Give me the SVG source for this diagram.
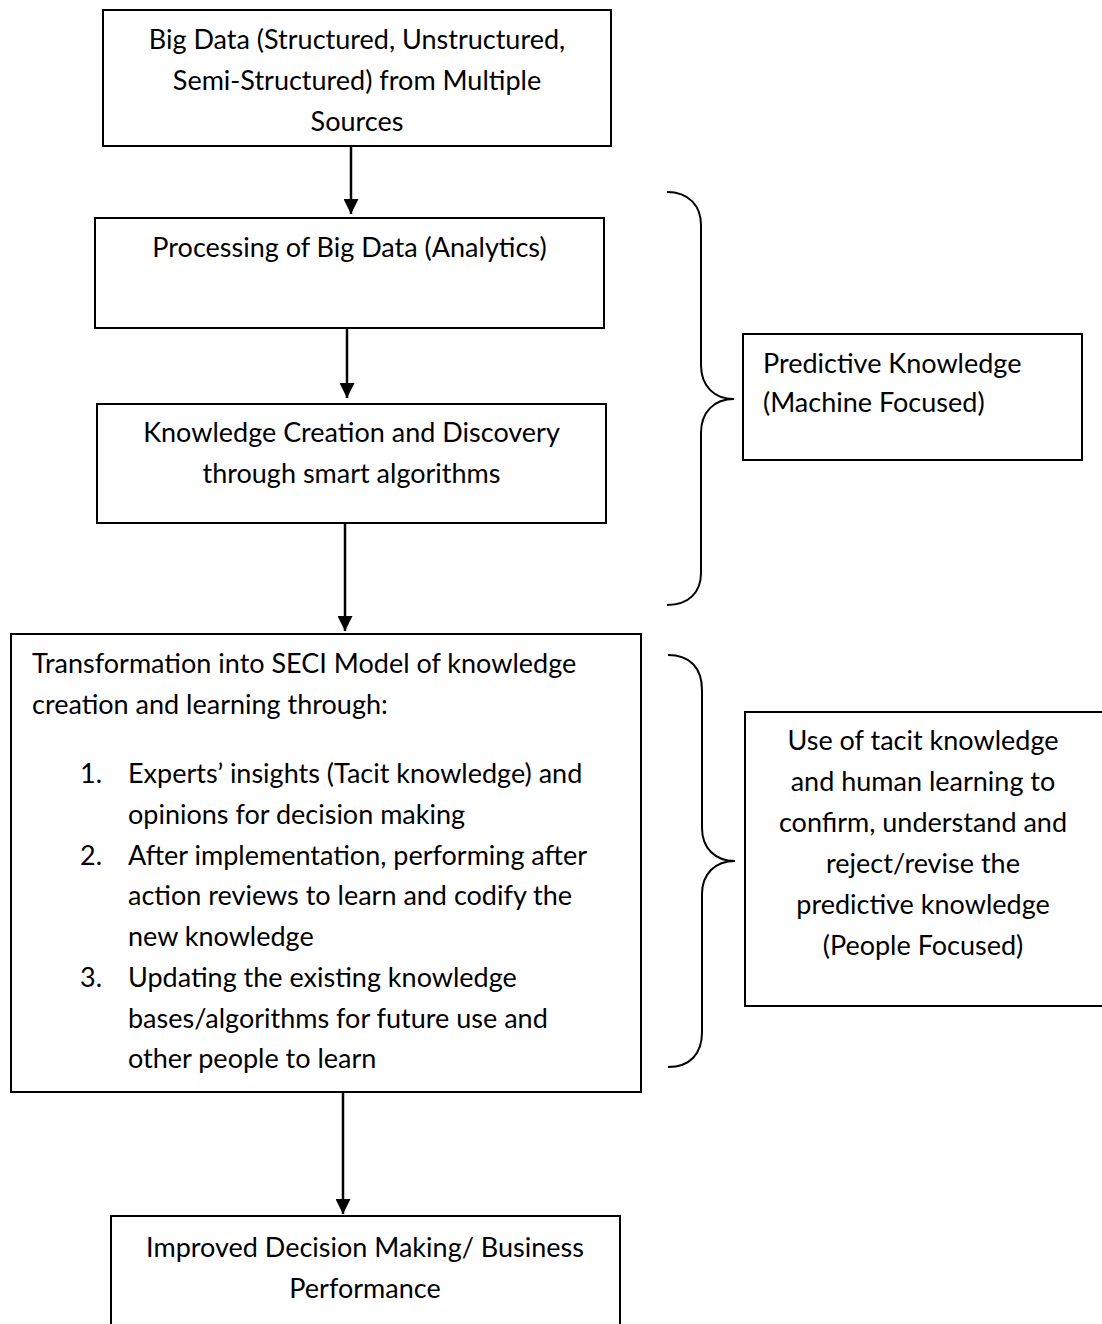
<svg xmlns="http://www.w3.org/2000/svg" width="1102" height="1324" viewBox="0 0 1102 1324">
<style>
.box{fill:#fff;stroke:#000;stroke-width:2}
.brace{fill:none;stroke:#000;stroke-width:2}
.conn{stroke:#000;stroke-width:2.5;fill:none}
text{font-family:Lato,"Open Sans","Liberation Sans",sans-serif;font-size:27px;fill:#000}
.c{text-anchor:middle}
</style>
<defs>
<marker id="ah" markerUnits="userSpaceOnUse" markerWidth="15" markerHeight="15" refX="15" refY="7.5" orient="auto">
<path d="M0,0 L15,7.5 L0,15 z" fill="#000"/>
</marker>
</defs>
<rect width="1102" height="1324" fill="#fff"/>
<g id="connectors">
<line class="conn" x1="351" y1="147" x2="351" y2="214" marker-end="url(#ah)"/>
<line class="conn" x1="347" y1="329" x2="347" y2="398" marker-end="url(#ah)"/>
<line class="conn" x1="345" y1="524" x2="345" y2="631" marker-end="url(#ah)"/>
<line class="conn" x1="343" y1="1093" x2="343" y2="1214" marker-end="url(#ah)"/>
</g>
<g id="node-bigdata">
<rect class="box" x="103" y="10" width="508" height="136"/>
<text class="c" x="357" y="49">Big Data (Structured, Unstructured,</text>
<text class="c" x="357" y="90">Semi-Structured) from Multiple</text>
<text class="c" x="357" y="131">Sources</text>
</g>
<g id="node-processing">
<rect class="box" x="95" y="218" width="509" height="110"/>
<text class="c" x="349.5" y="257">Processing of Big Data (Analytics)</text>
</g>
<g id="node-knowledge">
<rect class="box" x="97" y="404" width="509" height="119"/>
<text class="c" x="351.5" y="442">Knowledge Creation and Discovery</text>
<text class="c" x="351.5" y="483">through smart algorithms</text>
</g>
<g id="node-seci">
<rect class="box" x="11" y="634" width="630" height="458"/>
<text x="32" y="673">Transformation into SECI Model of knowledge</text>
<text x="32" y="714">creation and learning through:</text>
<text x="80" y="783">1.</text>
<text x="128" y="783">Experts’ insights (Tacit knowledge) and</text>
<text x="128" y="824">opinions for decision making</text>
<text x="80" y="865">2.</text>
<text x="128" y="865">After implementation, performing after</text>
<text x="128" y="905">action reviews to learn and codify the</text>
<text x="128" y="946">new knowledge</text>
<text x="80" y="987">3.</text>
<text x="128" y="987">Updating the existing knowledge</text>
<text x="128" y="1028">bases/algorithms for future use and</text>
<text x="128" y="1068">other people to learn</text>
</g>
<g id="node-improved">
<rect class="box" x="111" y="1216" width="509" height="130"/>
<text class="c" x="365" y="1257">Improved Decision Making/ Business</text>
<text class="c" x="365" y="1298">Performance</text>
</g>
<g id="brace-predictive">
<path class="brace" d="M667,192 C689,192 701,206 701,225 L701,365 C701,386 714,399 734,399 C714,399 701,412 701,433 L701,573 C701,592 689,605 667,605"/>
</g>
<g id="node-predictive">
<rect class="box" x="743" y="334" width="339" height="126"/>
<text x="763" y="373">Predictive Knowledge</text>
<text x="763" y="412">(Machine Focused)</text>
</g>
<g id="brace-people">
<path class="brace" d="M668,655 C690,655 702,668 702,690 L702,828 C702,848 715,861 735,861 C715,861 702,874 702,894 L702,1032 C702,1054 690,1067 668,1067"/>
</g>
<g id="node-people">
<rect class="box" x="745" y="712" width="360" height="294"/>
<text class="c" x="923" y="750">Use of tacit knowledge</text>
<text class="c" x="923" y="791">and human learning to</text>
<text class="c" x="923" y="832">confirm, understand and</text>
<text class="c" x="923" y="873">reject/revise the</text>
<text class="c" x="923" y="914">predictive knowledge</text>
<text class="c" x="923" y="955">(People Focused)</text>
</g>
</svg>
